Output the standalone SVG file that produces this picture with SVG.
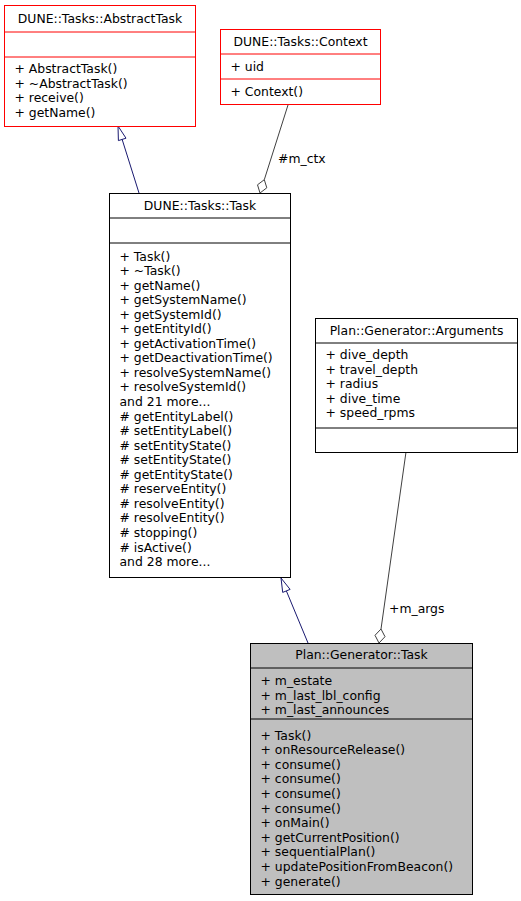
<svg xmlns="http://www.w3.org/2000/svg" width="521" height="901" viewBox="0 0 521 901">
<style>
text{font-family:"DejaVu Sans","Liberation Sans",sans-serif;font-size:12.4px;fill:#000}
.t{text-anchor:middle}
.red rect,.red line{stroke:#ff0000}
.box{fill:#fff;stroke:#000;stroke-width:1}
.sep{stroke:#000;stroke-width:1}
.gray .box{fill:#bfbfbf}
.inh{stroke:#191970;fill:none;stroke-width:1}
.inhh{stroke:#191970;fill:#fff;stroke-width:1}
.comp{stroke:#404040;fill:none;stroke-width:1}
.comph{stroke:#404040;fill:#fff;stroke-width:1}
</style>
<rect width="521" height="901" fill="#fff"/>
<g id="edges">
<line class="inh" x1="139" y1="193" x2="122" y2="139"/>
<polygon class="inhh" points="118,126 126,138.2 118.4,140.6"/>
<line class="inh" x1="308" y1="643" x2="286.4" y2="591"/>
<polygon class="inhh" points="281,578 290.1,589.4 282.7,592.4"/>
<line class="comp" x1="288" y1="105" x2="264.3" y2="179.7"/>
<polygon class="comph" points="260,193 257.5,184.8 264.3,179.7 266.8,187.8"/>
<text x="278" y="163">#m_ctx</text>
<line class="comp" x1="406" y1="452" x2="381" y2="629"/>
<polygon class="comph" points="379,643 375,635.3 381,629 385,636.7"/>
<text x="389" y="613">+m_args</text>
</g>
<g id="AbstractTask" class="red">
<rect class="box" x="4.5" y="5.5" width="191" height="121"/>
<line class="sep" x1="4.5" y1="32" x2="195.5" y2="32"/>
<line class="sep" x1="4.5" y1="57" x2="195.5" y2="57"/>
<text class="t" x="100" y="23">DUNE::Tasks::AbstractTask</text>
<text x="14.5" y="73">+ AbstractTask()</text>
<text x="14.5" y="87.5">+ ~AbstractTask()</text>
<text x="14.5" y="102">+ receive()</text>
<text x="14.5" y="116.5">+ getName()</text>
</g>
<g id="Context" class="red">
<rect class="box" x="220.5" y="29.5" width="160" height="75"/>
<line class="sep" x1="220.5" y1="54" x2="380.5" y2="54"/>
<line class="sep" x1="220.5" y1="79" x2="380.5" y2="79"/>
<text class="t" x="300.5" y="46">DUNE::Tasks::Context</text>
<text x="230.5" y="70.5">+ uid</text>
<text x="230.5" y="95.5">+ Context()</text>
</g>
<g id="Task">
<rect class="box" x="109.5" y="193.5" width="181" height="384"/>
<line class="sep" x1="109.5" y1="218" x2="290.5" y2="218"/>
<line class="sep" x1="109.5" y1="243" x2="290.5" y2="243"/>
<text class="t" x="200" y="210">DUNE::Tasks::Task</text>
<text x="119.5" y="260.5">+ Task()</text>
<text x="119.5" y="275">+ ~Task()</text>
<text x="119.5" y="289.6">+ getName()</text>
<text x="119.5" y="304.1">+ getSystemName()</text>
<text x="119.5" y="318.7">+ getSystemId()</text>
<text x="119.5" y="333.2">+ getEntityId()</text>
<text x="119.5" y="347.8">+ getActivationTime()</text>
<text x="119.5" y="362.3">+ getDeactivationTime()</text>
<text x="119.5" y="376.9">+ resolveSystemName()</text>
<text x="119.5" y="391.4">+ resolveSystemId()</text>
<text x="119.5" y="406">and 21 more...</text>
<text x="119.5" y="420.5">#  getEntityLabel()</text>
<text x="119.5" y="435.1">#  setEntityLabel()</text>
<text x="119.5" y="449.6">#  setEntityState()</text>
<text x="119.5" y="464.2">#  setEntityState()</text>
<text x="119.5" y="478.7">#  getEntityState()</text>
<text x="119.5" y="493.3">#  reserveEntity()</text>
<text x="119.5" y="507.8">#  resolveEntity()</text>
<text x="119.5" y="522.4">#  resolveEntity()</text>
<text x="119.5" y="536.9">#  stopping()</text>
<text x="119.5" y="551.5">#  isActive()</text>
<text x="119.5" y="566">and 28 more...</text>
</g>
<g id="Arguments">
<rect class="box" x="315.5" y="318.5" width="202" height="134"/>
<line class="sep" x1="315.5" y1="343" x2="517.5" y2="343"/>
<line class="sep" x1="315.5" y1="428" x2="517.5" y2="428"/>
<text class="t" x="416.5" y="335">Plan::Generator::Arguments</text>
<text x="325.5" y="359">+ dive_depth</text>
<text x="325.5" y="373.6">+ travel_depth</text>
<text x="325.5" y="388.2">+ radius</text>
<text x="325.5" y="402.8">+ dive_time</text>
<text x="325.5" y="417.4">+ speed_rpms</text>
</g>
<g id="GeneratorTask" class="gray">
<rect class="box" x="250.5" y="643.5" width="222" height="251"/>
<line class="sep" x1="250.5" y1="668" x2="472.5" y2="668"/>
<line class="sep" x1="250.5" y1="719" x2="472.5" y2="719"/>
<text class="t" x="361.5" y="659">Plan::Generator::Task</text>
<text x="260.5" y="685">+ m_estate</text>
<text x="260.5" y="699.5">+ m_last_lbl_config</text>
<text x="260.5" y="714">+ m_last_announces</text>
<text x="260.5" y="739.5">+ Task()</text>
<text x="260.5" y="754.1">+ onResourceRelease()</text>
<text x="260.5" y="768.7">+ consume()</text>
<text x="260.5" y="783.3">+ consume()</text>
<text x="260.5" y="797.9">+ consume()</text>
<text x="260.5" y="812.5">+ consume()</text>
<text x="260.5" y="827.1">+ onMain()</text>
<text x="260.5" y="841.7">+ getCurrentPosition()</text>
<text x="260.5" y="856.3">+ sequentialPlan()</text>
<text x="260.5" y="870.9">+ updatePositionFromBeacon()</text>
<text x="260.5" y="885.5">+ generate()</text>
</g>
</svg>
